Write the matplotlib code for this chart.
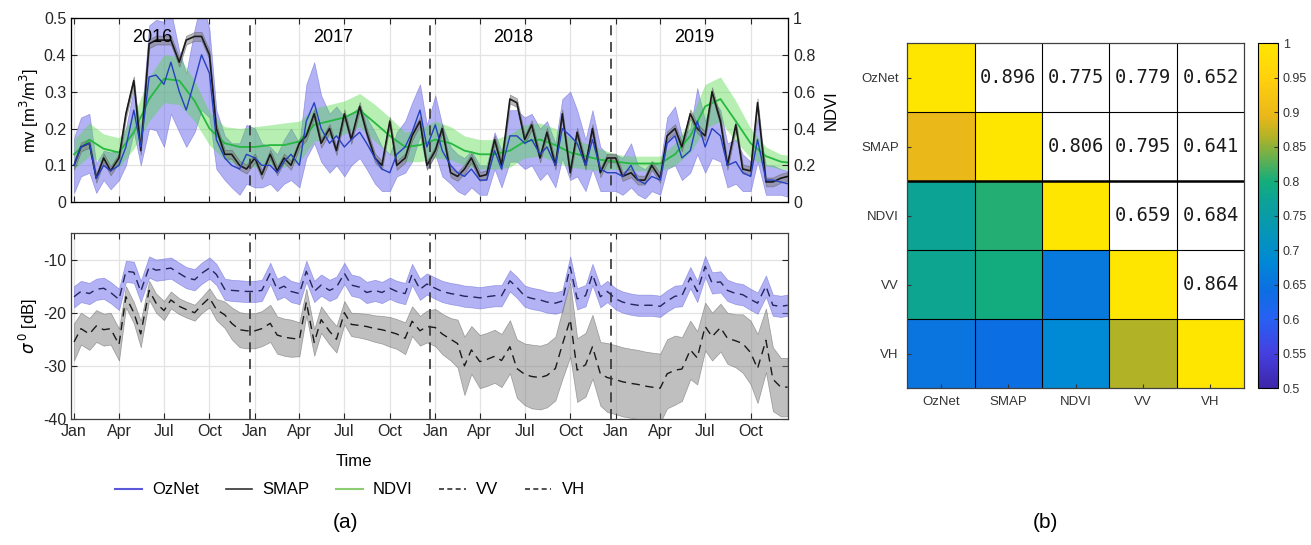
import numpy as np
import pandas as pd
import matplotlib
matplotlib.use("Agg")
from matplotlib import pyplot as plt
from matplotlib.colors import LinearSegmentedColormap
from matplotlib.lines import Line2D

plt.rcParams['font.family'] = ['Liberation Sans', 'DejaVu Sans']
plt.rcParams['axes.unicode_minus'] = False

# ---- time series (two samples per month, 2016-2019) ----
dates = pd.date_range("2016-01-01", "2019-12-16", freq="SMS")
ndvi_dates = pd.date_range("2016-01-01", "2020-01-01", freq="MS")

oznet = [0.10, 0.15, 0.16, 0.065, 0.10, 0.085, 0.10, 0.15, 0.25, 0.15, 0.34, 0.345, 0.32, 0.38, 0.30, 0.25, 0.33, 0.40, 0.35, 0.17, 0.12, 0.10, 0.09, 0.13,
         0.12, 0.10, 0.10, 0.08, 0.11, 0.13, 0.10, 0.22, 0.27, 0.20, 0.16, 0.18, 0.15, 0.17, 0.19, 0.16, 0.12, 0.09, 0.08, 0.13, 0.15, 0.19, 0.25, 0.15,
         0.21, 0.14, 0.10, 0.08, 0.07, 0.09, 0.06, 0.06, 0.14, 0.09, 0.18, 0.18, 0.16, 0.17, 0.13, 0.15, 0.10, 0.20, 0.18, 0.16, 0.10, 0.17, 0.09, 0.08,
         0.08, 0.07, 0.10, 0.06, 0.05, 0.07, 0.06, 0.16, 0.18, 0.12, 0.14, 0.22, 0.15, 0.20, 0.18, 0.10, 0.11, 0.08, 0.07, 0.17, 0.06, 0.06, 0.055, 0.05]
oznet_sd = [0.075, 0.08, 0.08, 0.04, 0.04, 0.05, 0.04, 0.05, 0.06, 0.05, 0.14, 0.15, 0.17, 0.14, 0.11, 0.10, 0.14, 0.15, 0.12, 0.08, 0.06, 0.06, 0.07, 0.08,
            0.08, 0.06, 0.05, 0.05, 0.06, 0.07, 0.06, 0.10, 0.11, 0.09, 0.08, 0.08, 0.08, 0.07, 0.07, 0.07, 0.07, 0.06, 0.05, 0.06, 0.07, 0.08, 0.07, 0.06,
            0.08, 0.07, 0.05, 0.05, 0.05, 0.05, 0.04, 0.04, 0.05, 0.05, 0.07, 0.07, 0.07, 0.07, 0.07, 0.07, 0.06, 0.08, 0.12, 0.09, 0.07, 0.08, 0.06, 0.05,
            0.05, 0.05, 0.06, 0.04, 0.04, 0.04, 0.04, 0.07, 0.08, 0.06, 0.06, 0.09, 0.07, 0.08, 0.07, 0.06, 0.06, 0.05, 0.04, 0.06, 0.04, 0.04, 0.035, 0.035]
smap = [0.10, 0.15, 0.16, 0.065, 0.12, 0.085, 0.12, 0.24, 0.33, 0.14, 0.43, 0.44, 0.44, 0.44, 0.38, 0.44, 0.45, 0.45, 0.40, 0.20, 0.13, 0.13, 0.10, 0.09,
        0.12, 0.075, 0.13, 0.085, 0.12, 0.10, 0.16, 0.18, 0.24, 0.16, 0.20, 0.14, 0.24, 0.17, 0.26, 0.19, 0.12, 0.10, 0.22, 0.10, 0.12, 0.18, 0.22, 0.10,
        0.14, 0.20, 0.08, 0.07, 0.09, 0.12, 0.07, 0.075, 0.17, 0.10, 0.28, 0.27, 0.17, 0.21, 0.12, 0.19, 0.10, 0.24, 0.08, 0.19, 0.10, 0.20, 0.08, 0.12,
        0.12, 0.07, 0.08, 0.06, 0.06, 0.10, 0.065, 0.18, 0.20, 0.15, 0.24, 0.20, 0.18, 0.30, 0.22, 0.10, 0.21, 0.09, 0.085, 0.27, 0.055, 0.055, 0.065, 0.07]
smap_sd = 0.012

ndvi = [0.26, 0.34, 0.29, 0.27, 0.38, 0.56, 0.67, 0.66, 0.55, 0.40, 0.32, 0.30,
        0.30, 0.31, 0.31, 0.33, 0.42, 0.44, 0.46, 0.50, 0.43, 0.36, 0.30, 0.31,
        0.34, 0.32, 0.28, 0.26, 0.26, 0.28, 0.33, 0.34, 0.31, 0.27, 0.25, 0.23,
        0.22, 0.21, 0.21, 0.21, 0.26, 0.36, 0.52, 0.56, 0.44, 0.32, 0.25, 0.22, 0.21]
ndvi_sd = [0.08, 0.09, 0.08, 0.08, 0.09, 0.12, 0.13, 0.13, 0.11, 0.09, 0.09, 0.10,
           0.11, 0.11, 0.12, 0.11, 0.09, 0.09, 0.09, 0.09, 0.10, 0.10, 0.08, 0.09,
           0.10, 0.09, 0.08, 0.08, 0.08, 0.09, 0.09, 0.09, 0.09, 0.08, 0.07, 0.06,
           0.04, 0.04, 0.04, 0.04, 0.06, 0.09, 0.12, 0.12, 0.11, 0.08, 0.05, 0.04, 0.04]

vv = [-17.0, -16.0, -16.4, -15.6, -15.4, -16.2, -17.5, -12.2, -12.4, -16.0, -11.4, -12.0, -11.8, -11.6, -12.6, -13.4, -13.8, -12.6, -11.6, -12.8, -15.6, -15.8, -15.9, -16.0,
      -16.0, -15.8, -12.6, -15.6, -15.0, -16.0, -16.4, -12.2, -16.0, -14.8, -15.8, -15.2, -12.6, -14.8, -15.2, -16.2, -15.8, -16.2, -15.4, -16.0, -16.4, -12.8, -15.6, -14.6,
      -15.4, -16.0, -16.4, -16.6, -16.9, -17.0, -17.2, -17.0, -16.8, -16.8, -14.0, -15.2, -16.9, -17.3, -17.6, -18.0, -18.2, -17.8, -11.4, -17.4, -16.8, -12.8, -17.0, -16.0,
      -17.4, -18.0, -18.4, -18.6, -18.6, -18.6, -18.8, -17.8, -16.9, -16.8, -13.4, -16.0, -11.3, -14.4, -14.2, -15.8, -16.4, -16.6, -17.5, -18.2, -15.0, -18.6, -18.8, -18.6]
vv_sd = 2.0
vh = [-25.5, -23.0, -24.0, -22.5, -23.2, -23.0, -26.0, -17.0, -20.0, -24.0, -15.8, -18.2, -19.6, -17.6, -18.8, -19.4, -20.0, -18.6, -17.2, -19.4, -20.4, -22.0, -23.2, -23.4,
      -23.4, -23.0, -22.0, -24.2, -24.6, -24.8, -25.0, -18.0, -25.6, -21.3, -23.5, -25.0, -20.0, -22.2, -22.4, -22.6, -23.0, -23.2, -23.6, -24.0, -24.8, -21.6, -23.4, -22.6,
      -22.8, -24.0, -25.0, -25.8, -30.0, -27.0, -29.2, -28.8, -28.2, -29.0, -26.4, -30.5, -31.6, -32.0, -32.2, -31.8, -30.5, -26.0, -21.3, -30.8, -29.8, -26.4, -31.5, -32.2,
      -32.6, -33.0, -33.3, -33.5, -33.8, -34.0, -34.2, -31.5, -30.8, -30.6, -27.0, -28.5, -22.6, -24.5, -22.8, -24.8, -25.3, -25.8, -27.5, -30.5, -25.2, -32.5, -34.0, -34.0]
vh_sd = [3.5, 3.0, 3.0, 3.0, 3.0, 3.0, 3.0, 2.0, 2.0, 2.5, 1.8, 1.8, 1.8, 1.6, 1.5, 1.5, 1.5, 1.5, 1.8, 2.0, 2.5, 3.0, 3.3, 3.3,
         3.3, 3.3, 3.5, 3.5, 3.5, 3.5, 3.2, 2.5, 2.5, 2.5, 2.5, 2.5, 2.2, 2.2, 2.3, 2.4, 2.5, 2.6, 2.8, 2.8, 3.0, 2.8, 2.8, 3.0,
         3.5, 3.8, 4.0, 4.5, 5.5, 4.5, 5.0, 5.0, 5.0, 5.0, 5.0, 5.5, 5.8, 6.0, 6.0, 6.0, 6.0, 6.5, 7.0, 6.0, 6.0, 6.0, 6.0, 6.5,
         6.5, 6.5, 6.5, 6.5, 6.5, 6.5, 6.5, 6.5, 6.5, 6.0, 5.5, 5.0, 4.5, 4.5, 4.5, 4.8, 5.0, 5.5, 6.0, 6.5, 6.0, 6.0, 5.5, 5.5]

years = ["2016", "2017", "2018", "2019"]
year_breaks = pd.to_datetime(["2016-12-22", "2017-12-22", "2018-12-22"])

# ---- correlation matrix ----
names = ["OzNet", "SMAP", "NDVI", "VV", "VH"]
corr = [[1.000, 0.896, 0.775, 0.779, 0.652],
        [0.896, 1.000, 0.806, 0.795, 0.641],
        [0.775, 0.806, 1.000, 0.659, 0.684],
        [0.779, 0.795, 0.659, 1.000, 0.864],
        [0.652, 0.641, 0.684, 0.864, 1.000]]
cbar_ticks = [0.5, 0.55, 0.6, 0.65, 0.7, 0.75, 0.8, 0.85, 0.9, 0.95, 1.0]

# parula-like map, tuned to the colours in the picture
parula = LinearSegmentedColormap.from_list("parula", [
    (0.00, (0.24, 0.15, 0.66)),
    (0.10, (0.27, 0.25, 0.88)),
    (0.20, (0.15, 0.38, 0.95)),
    (0.28, (0.05, 0.43, 0.89)),
    (0.37, (0.00, 0.54, 0.83)),
    (0.55, (0.05, 0.64, 0.58)),
    (0.60, (0.08, 0.68, 0.48)),
    (0.73, (0.70, 0.70, 0.15)),
    (0.79, (0.92, 0.72, 0.10)),
    (0.90, (1.00, 0.82, 0.05)),
    (1.00, (1.00, 0.90, 0.00))])

LAV, GRAY, GREEN_FILL = (0.40, 0.40, 0.93), (0.50, 0.50, 0.50), (0.30, 0.85, 0.25)
xmin, xmax = pd.Timestamp("2015-12-26"), pd.Timestamp("2019-12-16")
quarters = pd.date_range("2016-01-01", "2019-10-01", freq="QS")

fig = plt.figure(figsize=(13.11, 5.45), dpi=100)

def style_axes(a):
    a.tick_params(direction="in", length=4, labelsize=11.5, top=True, colors="#262626")
    for s in a.spines.values():
        s.set_color("#404040")
        s.set_linewidth(0.9)
    a.grid(True, color="#e3e3e3", lw=0.9)
    a.set_axisbelow(True)

# ---- top panel: soil moisture + NDVI ----
ax = fig.add_axes([0.0542, 0.629, 0.547, 0.338])
ax2 = ax.twinx()
ax.set_ylim(0, 0.5)
ax2.set_ylim(0, 1)

oz = np.array(oznet); ozs = np.array(oznet_sd)
sm = np.array(smap)
nd = np.array(ndvi); nds = np.array(ndvi_sd)

ax.fill_between(dates, oz - ozs, oz + ozs, color=LAV, alpha=0.5, edgecolor=(0.35, 0.35, 0.8), lw=0.5)
ax.fill_between(ndvi_dates, nd - nds, nd + nds, color=GREEN_FILL, alpha=0.4, lw=0,
                transform=ax2.transData)
ax.fill_between(dates, sm - smap_sd, sm + smap_sd, color=GRAY, alpha=0.55, edgecolor="#555555", lw=0.5)
ax.plot(ndvi_dates, nd, color=(0.15, 0.72, 0.25), lw=1.3, transform=ax2.transData)
ax.plot(dates, sm, color="#1a1a1a", lw=1.2)
ax.plot(dates, oz, color=(0.15, 0.25, 0.75), lw=1.0)

ax.set_xlim(xmin, xmax)
ax.set_yticks([0, 0.1, 0.2, 0.3, 0.4, 0.5])
ax.set_yticklabels(["0", "0.1", "0.2", "0.3", "0.4", "0.5"])
ax2.set_yticks([0, 0.2, 0.4, 0.6, 0.8, 1.0])
ax2.set_yticklabels(["0", "0.2", "0.4", "0.6", "0.8", "1"])
ax.set_xticks(quarters)
ax.set_xticklabels([])
style_axes(ax)
ax2.tick_params(direction="in", length=4, labelsize=11.5, colors="#262626")
ax.set_ylabel("mv [m$^3$/m$^3$]", fontsize=12, labelpad=2)
ax2.set_ylabel("NDVI", fontsize=12, labelpad=6)
for b in year_breaks:
    ax.axvline(b, color="#333333", lw=1.2, ls=(0, (6, 4)))
for i, y in enumerate(years):
    ax.text(pd.Timestamp(f"{y}-06-08"), 0.448, y, ha="center", va="center", fontsize=13)

# ---- bottom panel: backscatter ----
axb = fig.add_axes([0.0542, 0.2312, 0.547, 0.3413])
vva = np.array(vv); vha = np.array(vh); vhs = np.array(vh_sd)
axb.fill_between(dates, vva - vv_sd, vva + vv_sd, color=LAV, alpha=0.5, edgecolor=(0.35, 0.35, 0.8), lw=0.5)
axb.fill_between(dates, vha - vhs, vha + vhs, color=GRAY, alpha=0.5, edgecolor="#555555", lw=0.5)
axb.plot(dates, vv, color="#25255e", lw=1.0, ls=(0, (6, 4)))
axb.plot(dates, vh, color="#1a1a1a", lw=1.0, ls=(0, (6, 4)))
for b in year_breaks:
    axb.axvline(b, color="#333333", lw=1.2, ls=(0, (6, 4)))
axb.set_xlim(xmin, xmax)
axb.set_ylim(-40, -5)
axb.set_yticks([-40, -30, -20, -10])
axb.set_xticks(quarters)
axb.set_xticklabels([d.strftime("%b") for d in quarters])
style_axes(axb)
axb.tick_params(right=True)
axb.set_ylabel(r"$\sigma^{\,0}$ [dB]", fontsize=12, labelpad=2)

fig.text(354 / 1311, 1 - 462 / 545, "Time", ha="center", va="center", fontsize=12)

handles = [Line2D([], [], color=(0.35, 0.35, 0.85), lw=1.5),
           Line2D([], [], color="#333333", lw=1.2),
           Line2D([], [], color=(0.55, 0.8, 0.45), lw=1.5),
           Line2D([], [], color="#333333", lw=1.2, ls=(0, (3, 2))),
           Line2D([], [], color="#333333", lw=1.2, ls=(0, (3, 2)))]
fig.legend(handles, ["OzNet", "SMAP", "NDVI", "VV", "VH"], loc="center", ncol=5,
           bbox_to_anchor=(350 / 1311, 1 - 490 / 545), frameon=False, fontsize=12,
           handlelength=1.6, handletextpad=0.6, columnspacing=1.6)
fig.text(345 / 1311, 1 - 522 / 545, "(a)", ha="center", va="center", fontsize=15)
fig.text(1045 / 1311, 1 - 522 / 545, "(b)", ha="center", va="center", fontsize=15)

# ---- right panel: correlation heatmap ----
axh = fig.add_axes([0.692, 0.288, 0.257, 0.633])
cm = np.array(corr)
mask = np.triu(np.ones_like(cm, dtype=bool), k=1)
mesh = axh.pcolormesh(np.arange(6), np.arange(6), np.ma.masked_where(mask, cm),
                      cmap=parula, vmin=0.5, vmax=1.0)
axh.set_xlim(0, 5)
axh.set_ylim(5, 0)
for i in range(5):
    for j in range(5):
        if j > i:
            axh.text(j + 0.5, i + 0.5, f"{cm[i, j]:.3f}", ha="center", va="center",
                     fontsize=13.5, family="DejaVu Sans Mono", color="#1a1a1a")
for k in range(1, 5):
    axh.axhline(k, color="black", lw=1.8 if k == 2 else 0.8)
    axh.axvline(k, color="black", lw=0.8)
axh.set_xticks(np.arange(5) + 0.5)
axh.set_yticks(np.arange(5) + 0.5)
axh.set_xticklabels(names)
axh.set_yticklabels(names)
axh.tick_params(direction="in", length=3, labelsize=9.5, colors="#333333", pad=6)
for s in axh.spines.values():
    s.set_color("#404040")
    s.set_linewidth(0.9)

cax = fig.add_axes([0.9596, 0.288, 0.0153, 0.633])
cb = fig.colorbar(mesh, cax=cax, ticks=cbar_ticks)
cb.ax.set_yticklabels([f"{t:g}" for t in cbar_ticks])
cb.ax.tick_params(direction="in", length=3, labelsize=9, colors="#333333")
cb.outline.set_linewidth(0.8)

fig.savefig("out.png", dpi=100)
